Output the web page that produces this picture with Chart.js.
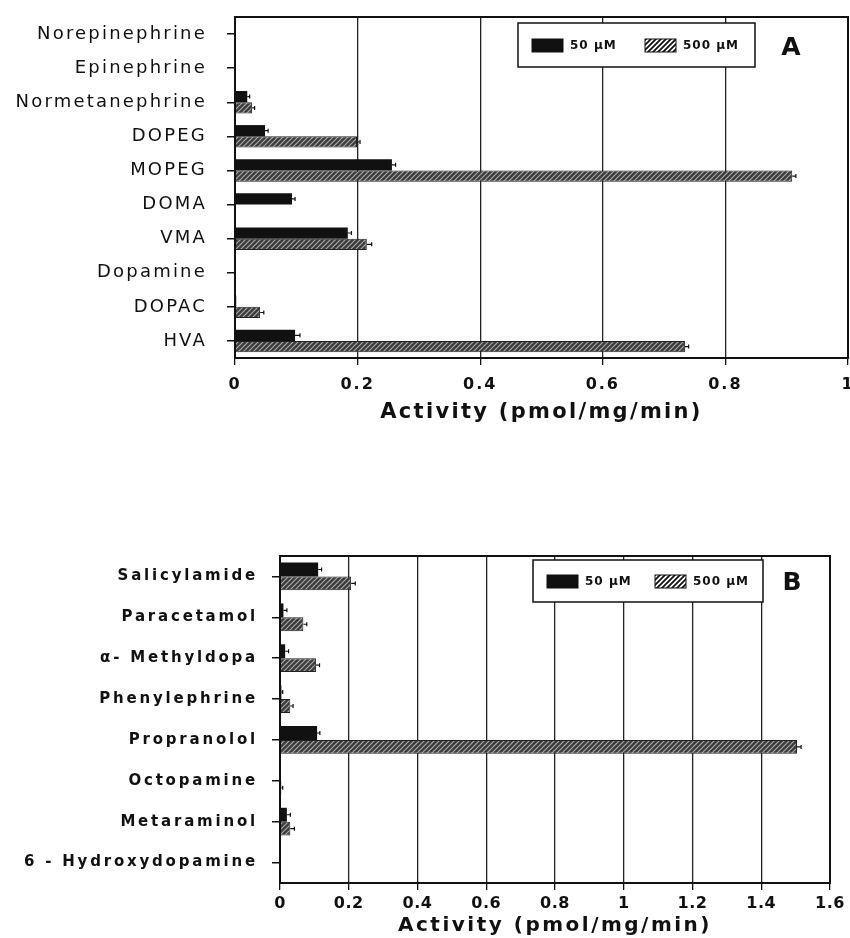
<!DOCTYPE html>
<html>
<head>
<meta charset="utf-8">
<script src="https://cdn.jsdelivr.net/npm/chart.js@4/dist/chart.umd.min.js"></script>
<style>
  body { margin:0; background:#fff; }
  #wrap { position:relative; width:850px; height:938px; }
  #boxA { position:absolute; left:0; top:0; width:850px; height:425px; }
  #boxB { position:absolute; left:0; top:520px; width:850px; height:418px; }
</style>
</head>
<body>
<div id="wrap">
  <div id="boxA"><canvas id="chartA"></canvas></div>
  <div id="boxB"><canvas id="chartB"></canvas></div>
</div>
<script>
/* ---- data: panel A (catecholamines & metabolites) ---- */
const catsA = ["Norepinephrine","Epinephrine","Normetanephrine","DOPEG","MOPEG","DOMA","VMA","Dopamine","DOPAC","HVA"];
const a50   = [0, 0, 0.020, 0.049, 0.256, 0.093, 0.184, 0, 0.002, 0.098];
const a500  = [0, 0, 0.028, 0.199, 0.909, 0, 0.215, 0, 0.041, 0.734];
const errA50  = [0, 0, 0.004, 0.005, 0.006, 0.005, 0.006, 0, 0, 0.008];
const errA500 = [0, 0, 0.004, 0.005, 0.006, 0, 0.008, 0, 0.006, 0.006];
const ticksA = [0, 0.2, 0.4, 0.6, 0.8, 1];

/* ---- data: panel B (drugs) ---- */
const catsB = ["Salicylamide","Paracetamol","α- Methyldopa","Phenylephrine","Propranolol","Octopamine","Metaraminol","6 - Hydroxydopamine"];
const b50   = [0.111, 0.010, 0.015, 0.004, 0.108, 0.002, 0.020, 0];
const b500  = [0.207, 0.068, 0.105, 0.030, 1.504, 0.004, 0.030, 0];
const errB50  = [0.010, 0.010, 0.010, 0.004, 0.008, 0, 0.010, 0];
const errB500 = [0.012, 0.010, 0.010, 0.008, 0.012, 0.004, 0.012, 0];
const ticksB = [0, 0.2, 0.4, 0.6, 0.8, 1, 1.2, 1.4, 1.6];

const seriesNames = ["50 µM", "500 µM"];
const axisTitle = "Activity (pmol/mg/min)";

// hatch pattern for 500 µM bars
function makeHatch(bg, fg, lw){
  let c = document.createElement("canvas");
  c.width = 5; c.height = 5;
  let g = c.getContext("2d");
  g.fillStyle = bg; g.fillRect(0,0,5,5);
  g.strokeStyle = fg; g.lineWidth = lw;
  g.beginPath();
  g.moveTo(0,5); g.lineTo(5,0);
  g.moveTo(-1,1); g.lineTo(1,-1);
  g.moveTo(4,6); g.lineTo(6,4);
  g.stroke();
  return g.createPattern(c, "repeat");
}
const hatchBar = makeHatch("#3c3c3c", "#a8a8a8", 1.2);
const hatchKey = makeHatch("#ffffff", "#111111", 1.8);

/* error whiskers, drawn through the x scale */
const errorBars = {
  id: "errorBars",
  afterDatasetsDraw(chart){
    let ctx = chart.ctx, xs = chart.scales.x;
    chart.data.datasets.forEach((ds, di) => {
      let meta = chart.getDatasetMeta(di);
      (ds.err || []).forEach((e, i) => {
        if(!e || !ds.data[i]) return;
        let bar = meta.data[i];
        let x0 = xs.getPixelForValue(ds.data[i]);
        let x1 = xs.getPixelForValue(ds.data[i] + e);
        ctx.save();
        ctx.strokeStyle = "#111"; ctx.lineWidth = 1.2;
        ctx.beginPath();
        ctx.moveTo(x0, bar.y); ctx.lineTo(x1, bar.y);
        ctx.moveTo(x1, bar.y - 2); ctx.lineTo(x1, bar.y + 2);
        ctx.stroke();
        ctx.restore();
      });
    });
  }
};

/* wide typewriter-like text: letter spacing per scale */
const spacing = {
  id: "spacing",
  afterUpdate(chart, args, opt){
    Object.keys(opt).forEach(id => {
      let s = chart.scales[id];
      if(!s || s._spaced) return;
      s._spaced = true;
      let ls = opt[id];
      ["drawLabels", "drawTitle"].forEach(fn => {
        let orig = s[fn];
        s[fn] = function(){
          let ctx = this.ctx;
          ctx.save();
          ctx.letterSpacing = (fn === "drawTitle" ? ls.title : ls.labels) + "px";
          orig.apply(this, arguments);
          ctx.restore();
        };
      });
    });
  }
};

/* frame + boxed legend + panel letter */
const frameLegend = {
  id: "frameLegend",
  afterDraw(chart, args, opt){
    let ctx = chart.ctx, a = chart.chartArea;
    ctx.save();
    ctx.strokeStyle = "#111"; ctx.lineWidth = 2;
    ctx.strokeRect(a.left, a.top, a.right - a.left, a.bottom - a.top);

    // legend box
    ctx.fillStyle = "#fff";
    ctx.fillRect(opt.x, opt.y, opt.w, opt.h);
    ctx.lineWidth = 1.5;
    ctx.strokeRect(opt.x, opt.y, opt.w, opt.h);
    let cy = opt.y + opt.h / 2;
    let ds = chart.data.datasets;
    ctx.font = "bold 12px 'DejaVu Sans'";
    ctx.letterSpacing = "1px";
    ctx.textBaseline = "middle";
    ctx.textAlign = "left";
    let sx = opt.x + 14;
    ds.forEach((d, i) => {
      ctx.fillStyle = i === 0 ? "#111" : hatchKey;
      ctx.fillRect(sx, cy - 6, 31, 13);
      ctx.strokeStyle = "#111"; ctx.lineWidth = 1;
      ctx.strokeRect(sx, cy - 6, 31, 13);
      ctx.fillStyle = "#111";
      ctx.fillText(d.label, sx + 38, cy + 1);
      sx += opt.step;
    });

    ctx.letterSpacing = "0px";
    ctx.font = "bold 25px 'DejaVu Sans'";
    ctx.textAlign = "center";
    ctx.fillText(opt.letter, opt.lx, opt.ly);
    ctx.restore();
  }
};

function buildChart(id, cats, v50, v500, e50, e500, ticks, cfg){
  return new Chart(document.getElementById(id), {
    type: "bar",
    data: {
      labels: cats,
      datasets: [
        { label: seriesNames[0], data: v50, err: e50, backgroundColor: "#111", borderColor: "#111", borderWidth: 0 },
        { label: seriesNames[1], data: v500, err: e500, backgroundColor: hatchBar, borderColor: "#222", borderWidth: 1 }
      ]
    },
    options: {
      indexAxis: "y",
      responsive: true,
      maintainAspectRatio: false,
      animation: false,
      layout: { padding: cfg.padding },
      datasets: { bar: { categoryPercentage: cfg.catPct, barPercentage: 1 } },
      plugins: {
        legend: { display: false },
        tooltip: { enabled: false },
        frameLegend: cfg.legend,
        spacing: cfg.spacing
      },
      scales: {
        x: {
          min: ticks[0], max: ticks[ticks.length - 1],
          afterBuildTicks: s => { s.ticks = ticks.map(v => ({ value: v })); },
          afterFit: s => { s.height = cfg.xHeight; s.paddingLeft = 0; s.paddingRight = 0; },
          grid: { color: "#222", lineWidth: 1.3, drawTicks: true, tickLength: 7, tickColor: "#111" },
          border: { display: false },
          ticks: { color: "#111", font: { family: "DejaVu Sans", size: 16, weight: "bold" }, padding: cfg.tickPad, autoSkip: false, maxRotation: 0,
                   callback: v => String(v) },
          title: { display: true, text: axisTitle, color: "#111", font: { family: "DejaVu Sans", size: cfg.titleSize, weight: "bold" }, padding: { top: cfg.titlePad, bottom: 0 } }
        },
        y: {
          afterFit: s => { s.width = cfg.yWidth; s.paddingTop = 0; s.paddingBottom = 0; },
          grid: { drawOnChartArea: false, offset: false, drawTicks: true, tickLength: 8, tickColor: "#111", lineWidth: 1.5 },
          border: { display: false },
          ticks: { color: "#111", font: cfg.yFont, padding: cfg.yPad, autoSkip: false }
        }
      }
    },
    plugins: [errorBars, frameLegend, spacing]
  });
}

buildChart("chartA", catsA, a50, a500, errA50, errA500, ticksA, {
  padding: { top: 17, right: 2, left: 0, bottom: 0 },
  yWidth: 235, xHeight: 67, catPct: 0.66, tickPad: 10, titlePad: 3,
  titleSize: 21, yPad: 20,
  yFont: { family: "DejaVu Sans", size: 18 },
  spacing: { x: { labels: 2, title: 2.3 }, y: { labels: 2.2, title: 0 } },
  legend: { x: 518, y: 23, w: 237, h: 44, step: 113, letter: "A", lx: 791, ly: 48 }
});

buildChart("chartB", catsB, b50, b500, errB50, errB500, ticksB, {
  padding: { top: 36, right: 20, left: 0, bottom: 0 },
  yWidth: 280, xHeight: 55, catPct: 0.68, tickPad: 4, titlePad: 2,
  titleSize: 20, yPad: 14,
  yFont: { family: "DejaVu Sans", size: 15, weight: "bold" },
  spacing: { x: { labels: 0.5, title: 2.5 }, y: { labels: 2.8, title: 0 } },
  legend: { x: 533, y: 40, w: 230, h: 42, step: 108, letter: "B", lx: 792, ly: 63 }
});
</script>
</body>
</html>
